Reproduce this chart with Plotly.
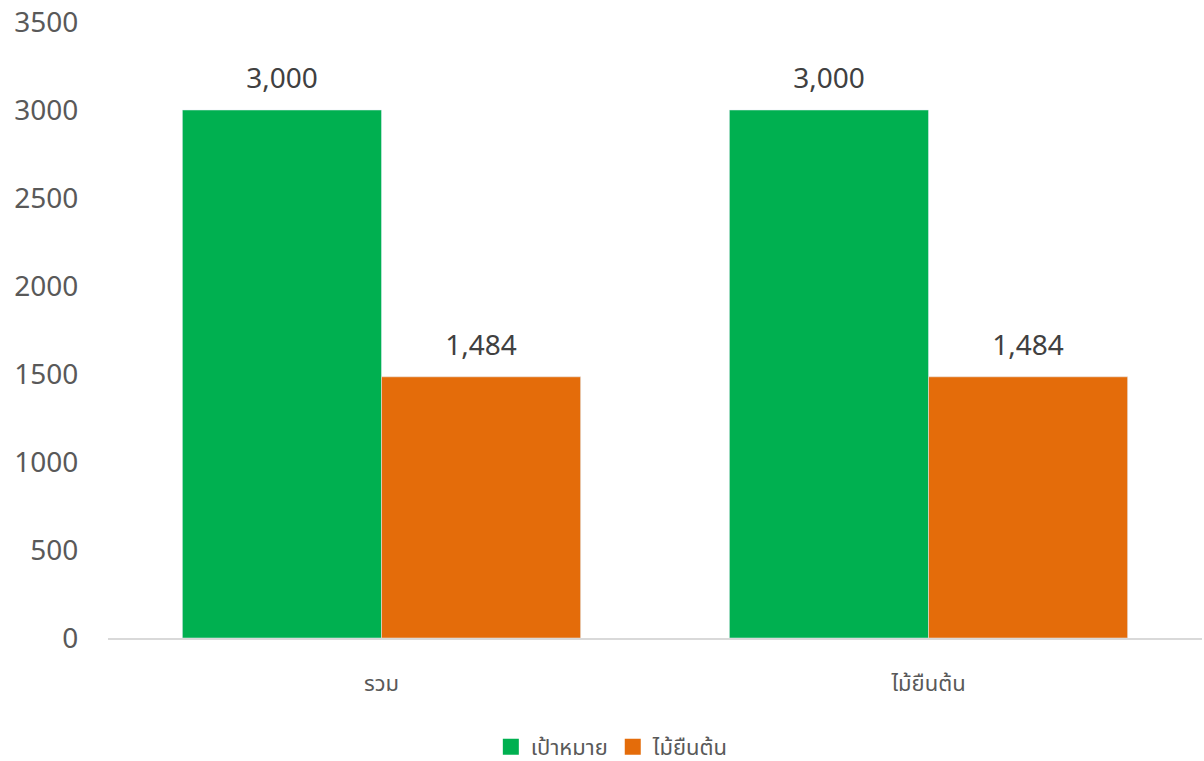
import plotly.graph_objects as go

categories = ["รวม", "ไม้ยืนต้น"]
target = [3000, 3000]
trees = [1484, 1484]
series_names = ["เป้าหมาย", "ไม้ยืนต้น"]
y_ticks = [0, 500, 1000, 1500, 2000, 2500, 3000, 3500]

FONT = "Noto Sans, Noto Sans Thai, sans-serif"
colors = ["#00B050", "#E46C0A"]

fig = go.Figure()
for i, (name, vals) in enumerate(zip(series_names, [target, trees])):
    fig.add_trace(go.Bar(x=categories, y=vals, name=name, marker_color=colors[i],
                         offsetgroup=str(i), hoverinfo="y", showlegend=False))
for i, vals in enumerate([target, trees]):
    fig.add_trace(go.Scatter(x=categories, y=vals, mode="markers+text", offsetgroup=str(i),
                             marker=dict(size=22, color="rgba(0,0,0,0)"),
                             text=[f"{v:,}" for v in vals], textposition="top center",
                             textfont=dict(size=28, color="#404040", family=FONT),
                             showlegend=False, cliponaxis=False, hoverinfo="skip"))
# legend entries (square swatches)
for i, name in enumerate(series_names):
    fig.add_trace(go.Scatter(x=[None], y=[None], mode="markers", name=name,
                             marker=dict(symbol="square", size=17, color=colors[i]),
                             showlegend=True, hoverinfo="skip"))

fig.update_layout(
    width=1204, height=761,
    margin=dict(l=108, r=2, t=22, b=123, autoexpand=False),
    paper_bgcolor="white", plot_bgcolor="white",
    barmode="group", bargap=0.272, bargroupgap=0, scattermode="group",
    font=dict(family=FONT, color="#595959"),
    legend=dict(orientation="h", x=0.461, xanchor="center", y=-0.177, yanchor="middle",
                font=dict(size=22, color="#595959"), itemwidth=30, tracegroupgap=0),
    showlegend=True,
)
fig.update_xaxes(showline=True, linecolor="#D9D9D9", linewidth=2, showgrid=False, automargin=False,
                 ticks="outside", ticklen=25, tickcolor="rgba(0,0,0,0)",
                 tickfont=dict(size=22, color="#595959"))
fig.update_yaxes(range=[0, 3500], tickvals=y_ticks, showgrid=False, zeroline=False, automargin=False,
                 showline=False, ticks="outside", ticklen=23, tickcolor="rgba(0,0,0,0)",
                 tickfont=dict(size=28, color="#595959"))
fig.write_html("out.html", config={"displayModeBar": False})

with open("out.html", encoding="utf-8") as f:
    html = f.read()
html = html.replace("<body>", "<body style=\"margin:0;padding:0;overflow:hidden\">", 1)
with open("out.html", "w", encoding="utf-8") as f:
    f.write(html)
